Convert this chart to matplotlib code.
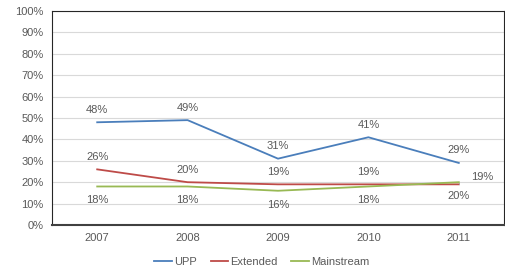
import matplotlib
matplotlib.use("Agg")
import matplotlib.pyplot as plt
from matplotlib.ticker import PercentFormatter

years = ["2007", "2008", "2009", "2010", "2011"]
upp = [48, 49, 31, 41, 29]
extended = [26, 20, 19, 19, 19]
mainstream = [18, 18, 16, 18, 20]
yticks = list(range(0, 101, 10))

plt.rcParams['font.family'] = ['Liberation Sans', 'DejaVu Sans']
txt = '#595959'

fig = plt.figure(figsize=(5.06, 2.70), dpi=100)
ax = fig.add_axes([52/506, 1-225/270, 452/506, 214/270])
x = list(range(len(years)))

ax.plot(x, upp, color='#4a7ebb', lw=1.3, label='UPP', zorder=3)
ax.plot(x, extended, color='#be4b48', lw=1.3, label='Extended', zorder=3)
ax.plot(x, mainstream, color='#98b954', lw=1.3, label='Mainstream', zorder=3)

fs = 8
for i, v in enumerate(upp):
    ax.annotate(f"{v}%", (i, v), xytext=(0, 9), textcoords='offset points',
                ha='center', va='center', fontsize=fs, color=txt)
for i, v in enumerate(extended):
    if i == len(extended) - 1:
        ax.annotate(f"{v}%", (i, v), xytext=(17, 5), textcoords='offset points',
                    ha='center', va='center', fontsize=fs, color=txt,
                    arrowprops=dict(arrowstyle='-', color='#a6a6a6', lw=0.7,
                                    connectionstyle='angle,angleA=0,angleB=90,rad=0',
                                    shrinkA=8, shrinkB=0))
    else:
        ax.annotate(f"{v}%", (i, v), xytext=(0, 9), textcoords='offset points',
                    ha='center', va='center', fontsize=fs, color=txt)
for i, v in enumerate(mainstream):
    ax.annotate(f"{v}%", (i, v), xytext=(0, -10), textcoords='offset points',
                ha='center', va='center', fontsize=fs, color=txt)

ax.set_xlim(-0.5, len(years) - 0.5)
ax.set_ylim(0, 100)
ax.set_yticks(yticks)
ax.yaxis.set_major_formatter(PercentFormatter(decimals=0))
ax.set_xticks(x)
ax.set_xticklabels(years)
ax.tick_params(axis='both', length=0, labelsize=fs, colors=txt, pad=6)
ax.grid(axis='y', color='#d9d9d9', lw=0.8, zorder=0)
ax.set_axisbelow(True)
for s in ['left', 'top', 'right']:
    ax.spines[s].set_color('#262626')
    ax.spines[s].set_linewidth(0.8)
ax.spines['bottom'].set_color('#404040')
ax.spines['bottom'].set_linewidth(1.5)

leg = fig.legend(loc='center', bbox_to_anchor=(262/506, 1-262/270), ncol=3,
                 frameon=False, fontsize=fs, handlelength=1.6, handletextpad=0.2,
                 columnspacing=1.2, labelcolor=txt)

fig.savefig('out.png', dpi=100)
